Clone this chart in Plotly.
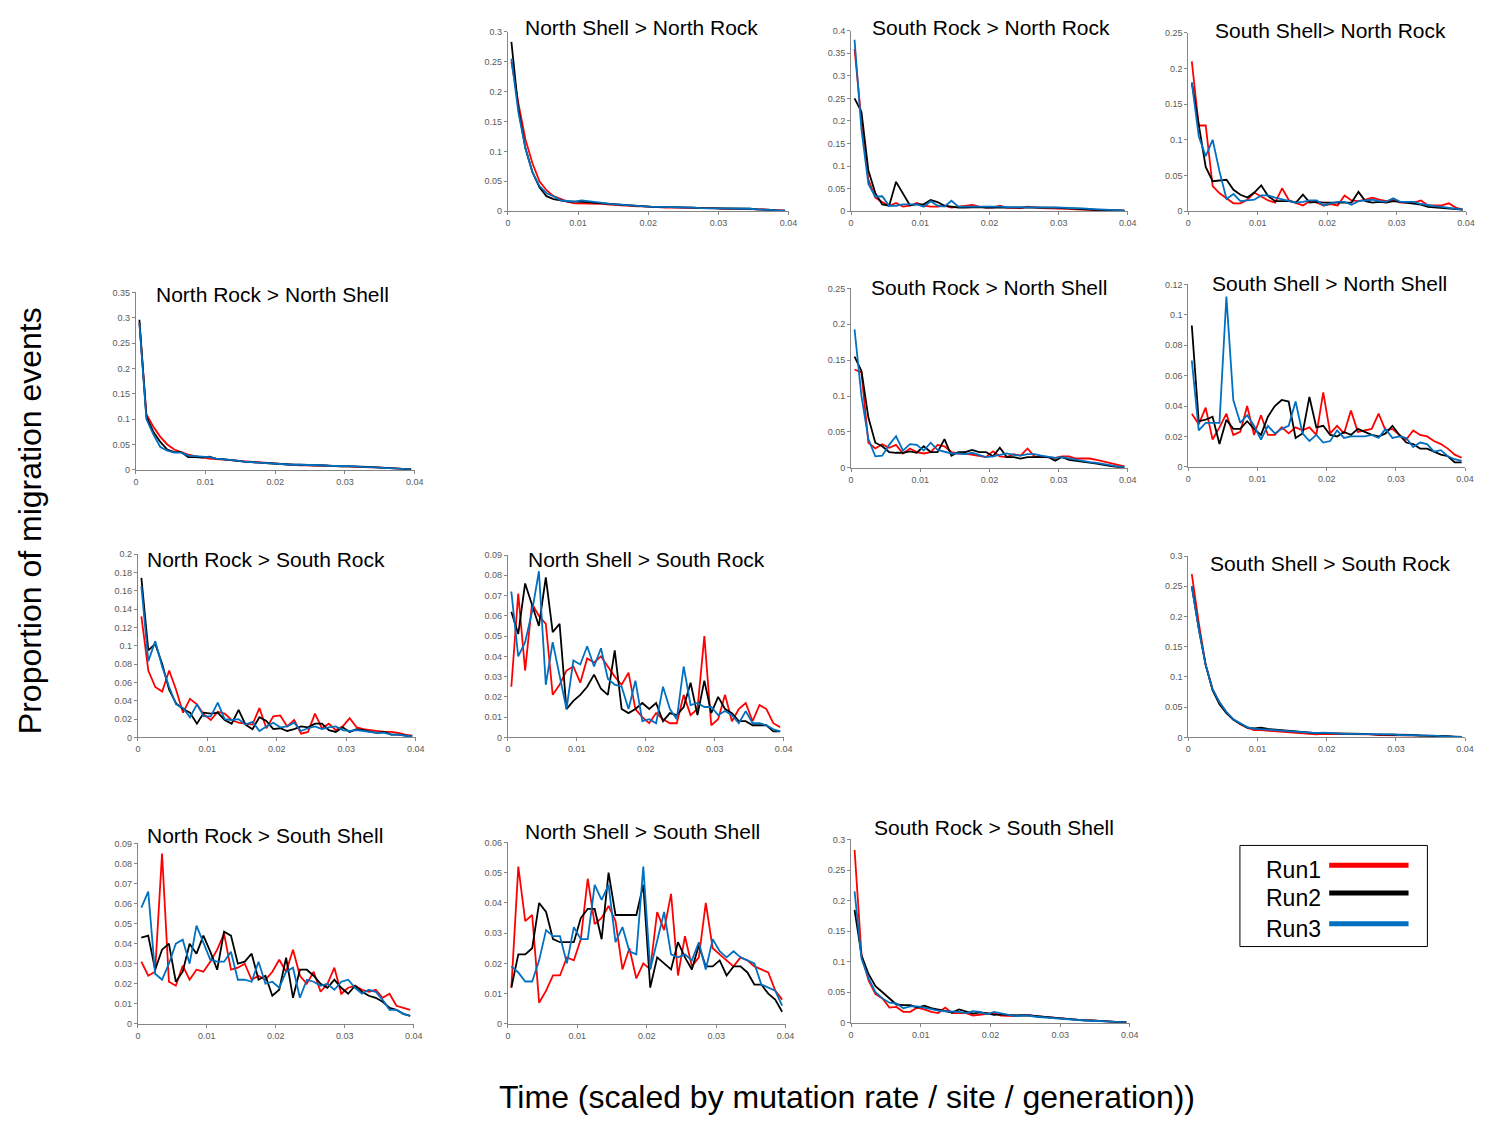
import plotly.graph_objects as go

W, H = 1485, 1122

x_bins = [0.0005, 0.0015, 0.0025, 0.0035, 0.0045, 0.0055, 0.0065, 0.0075, 0.0085, 0.0095,
          0.0105, 0.0115, 0.0125, 0.0135, 0.0145, 0.0155, 0.0165, 0.0175, 0.0185, 0.0195,
          0.0205, 0.0215, 0.0225, 0.0235, 0.0245, 0.0255, 0.0265, 0.0275, 0.0285, 0.0295,
          0.0305, 0.0315, 0.0325, 0.0335, 0.0345, 0.0355, 0.0365, 0.0375, 0.0385, 0.0395]

run_names = ["Run1", "Run2", "Run3"]
run_colors = ["#FF0000", "#000000", "#0070C0"]

# North Shell > North Rock
nsnr_run1 = [0.25, 0.18, 0.12, 0.08, 0.05, 0.035, 0.025, 0.02, 0.016, 0.013,
             0.013, 0.013, 0.012, 0.012, 0.011, 0.01, 0.009, 0.009, 0.008, 0.008,
             0.007, 0.007, 0.006, 0.006, 0.006, 0.006, 0.005, 0.005, 0.005, 0.005,
             0.004, 0.004, 0.004, 0.004, 0.003, 0.003, 0.003, 0.002, 0.002, 0.001]
nsnr_run2 = [0.283, 0.17, 0.105, 0.065, 0.04, 0.025, 0.02, 0.018, 0.016, 0.016,
             0.016, 0.015, 0.014, 0.013, 0.012, 0.011, 0.01, 0.009, 0.009, 0.008,
             0.007, 0.007, 0.007, 0.006, 0.006, 0.006, 0.006, 0.005, 0.005, 0.005,
             0.005, 0.004, 0.004, 0.004, 0.004, 0.003, 0.003, 0.002, 0.001, 0.001]
nsnr_run3 = [0.255, 0.165, 0.105, 0.065, 0.042, 0.03, 0.025, 0.018, 0.017, 0.016,
             0.018, 0.017, 0.015, 0.014, 0.012, 0.011, 0.01, 0.009, 0.008, 0.008,
             0.007, 0.007, 0.007, 0.006, 0.006, 0.006, 0.006, 0.005, 0.005, 0.005,
             0.005, 0.005, 0.004, 0.004, 0.004, 0.003, 0.003, 0.002, 0.001, 0.001]

# South Rock > North Rock
srnr_run1 = [0.36, 0.2, 0.07, 0.03, 0.02, 0.012, 0.018, 0.01, 0.012, 0.018,
             0.012, 0.01, 0.01, 0.012, 0.008, 0.01, 0.013, 0.014, 0.01, 0.008,
             0.008, 0.012, 0.008, 0.008, 0.007, 0.01, 0.008, 0.007, 0.006, 0.006,
             0.005, 0.005, 0.004, 0.004, 0.003, 0.002, 0.002, 0.002, 0.001, 0.001]
srnr_run2 = [0.25, 0.22, 0.09, 0.04, 0.015, 0.012, 0.065, 0.04, 0.013, 0.015,
             0.015, 0.025, 0.02, 0.012, 0.01, 0.008, 0.008, 0.009, 0.009, 0.008,
             0.008, 0.009, 0.008, 0.008, 0.008, 0.008, 0.008, 0.008, 0.008, 0.008,
             0.007, 0.006, 0.006, 0.005, 0.004, 0.003, 0.003, 0.002, 0.001, 0.001]
srnr_run3 = [0.38, 0.18, 0.06, 0.032, 0.033, 0.012, 0.012, 0.015, 0.015, 0.015,
             0.01, 0.022, 0.012, 0.01, 0.023, 0.01, 0.01, 0.01, 0.01, 0.01,
             0.011, 0.01, 0.009, 0.009, 0.008, 0.008, 0.008, 0.008, 0.008, 0.008,
             0.008, 0.007, 0.007, 0.006, 0.005, 0.004, 0.003, 0.002, 0.002, 0.001]

# South Shell > North Rock
ssnr_run1 = [0.21, 0.12, 0.12, 0.035, 0.025, 0.018, 0.011, 0.011, 0.016, 0.026,
             0.02, 0.015, 0.012, 0.032, 0.015, 0.012, 0.008, 0.014, 0.012, 0.008,
             0.01, 0.008, 0.022, 0.015, 0.014, 0.016, 0.019, 0.016, 0.014, 0.016,
             0.012, 0.012, 0.012, 0.015, 0.008, 0.008, 0.008, 0.011, 0.005, 0.002]
ssnr_run2 = [0.18, 0.12, 0.062, 0.042, 0.043, 0.044, 0.03, 0.023, 0.019, 0.026,
             0.036, 0.021, 0.014, 0.014, 0.014, 0.012, 0.023, 0.012, 0.013, 0.012,
             0.012, 0.012, 0.013, 0.012, 0.027, 0.014, 0.012, 0.013, 0.012, 0.014,
             0.013, 0.012, 0.011, 0.009, 0.006, 0.005, 0.004, 0.004, 0.003, 0.002]
ssnr_run3 = [0.18, 0.105, 0.077, 0.1, 0.055, 0.017, 0.024, 0.014, 0.015, 0.016,
             0.022, 0.022, 0.019, 0.017, 0.014, 0.012, 0.013, 0.015, 0.015, 0.008,
             0.011, 0.013, 0.013, 0.009, 0.014, 0.015, 0.016, 0.014, 0.013, 0.018,
             0.013, 0.013, 0.013, 0.01, 0.008, 0.007, 0.006, 0.005, 0.004, 0.002]

# North Rock > North Shell
nrns_run1 = [0.29, 0.11, 0.085, 0.065, 0.05, 0.04, 0.035, 0.03, 0.027, 0.024,
             0.022, 0.021, 0.02, 0.019, 0.018, 0.017, 0.015, 0.014, 0.013, 0.012,
             0.011, 0.01, 0.01, 0.009, 0.009, 0.008, 0.008, 0.008, 0.007, 0.007,
             0.007, 0.006, 0.006, 0.005, 0.005, 0.004, 0.003, 0.003, 0.002, 0.001]
nrns_run2 = [0.296, 0.105, 0.075, 0.055, 0.04, 0.035, 0.035, 0.025, 0.025, 0.024,
             0.026, 0.022, 0.021, 0.019, 0.018, 0.016, 0.015, 0.014, 0.013, 0.012,
             0.011, 0.011, 0.01, 0.01, 0.009, 0.009, 0.009, 0.008, 0.008, 0.007,
             0.007, 0.007, 0.006, 0.006, 0.005, 0.004, 0.003, 0.003, 0.002, 0.001]
nrns_run3 = [0.29, 0.1, 0.07, 0.045, 0.038, 0.034, 0.034, 0.028, 0.027, 0.026,
             0.025, 0.022, 0.021, 0.019, 0.018, 0.016, 0.015, 0.014, 0.013, 0.012,
             0.011, 0.011, 0.01, 0.01, 0.01, 0.009, 0.009, 0.008, 0.008, 0.007,
             0.007, 0.007, 0.006, 0.006, 0.005, 0.004, 0.003, 0.003, 0.002, 0.001]

# South Rock > North Shell
srns_run1 = [0.137, 0.133, 0.035, 0.027, 0.033, 0.028, 0.032, 0.02, 0.027, 0.022,
             0.02, 0.022, 0.032, 0.03, 0.022, 0.02, 0.02, 0.018, 0.017, 0.015,
             0.023, 0.016, 0.015, 0.019, 0.017, 0.027, 0.016, 0.015, 0.015, 0.014,
             0.016, 0.016, 0.013, 0.013, 0.013, 0.011, 0.009, 0.006, 0.004, 0.002]
srns_run2 = [0.155, 0.135, 0.07, 0.035, 0.03, 0.022, 0.021, 0.021, 0.023, 0.021,
             0.03, 0.022, 0.022, 0.04, 0.017, 0.022, 0.022, 0.025, 0.022, 0.022,
             0.016, 0.028, 0.015, 0.015, 0.013, 0.015, 0.015, 0.015, 0.015, 0.01,
             0.015, 0.011, 0.01, 0.009, 0.007, 0.006, 0.004, 0.002, 0.001, 0.001]
srns_run3 = [0.193, 0.1, 0.04, 0.016, 0.017, 0.032, 0.044, 0.024, 0.033, 0.032,
             0.024, 0.035, 0.025, 0.022, 0.02, 0.02, 0.019, 0.021, 0.018, 0.015,
             0.016, 0.018, 0.02, 0.018, 0.017, 0.019, 0.019, 0.017, 0.016, 0.014,
             0.015, 0.013, 0.012, 0.01, 0.008, 0.007, 0.005, 0.004, 0.002, 0.001]

# South Shell > North Shell
ssns_run1 = [0.035, 0.028, 0.039, 0.018, 0.026, 0.035, 0.021, 0.023, 0.04, 0.021,
             0.034, 0.021, 0.021, 0.026, 0.022, 0.026, 0.024, 0.026, 0.021, 0.049,
             0.022, 0.027, 0.022, 0.037, 0.023, 0.024, 0.025, 0.035, 0.024, 0.025,
             0.021, 0.018, 0.024, 0.021, 0.02, 0.017, 0.015, 0.012, 0.008, 0.006]
ssns_run2 = [0.093, 0.03, 0.031, 0.033, 0.015, 0.031, 0.025, 0.025, 0.03, 0.025,
             0.021, 0.033, 0.04, 0.044, 0.043, 0.019, 0.022, 0.046, 0.026, 0.027,
             0.021, 0.02, 0.023, 0.021, 0.025, 0.023, 0.021, 0.02, 0.022, 0.027,
             0.021, 0.016, 0.015, 0.012, 0.012, 0.01, 0.008, 0.007, 0.003, 0.003]
ssns_run3 = [0.07, 0.024, 0.029, 0.029, 0.029, 0.112, 0.044, 0.029, 0.034, 0.027,
             0.018, 0.027, 0.022, 0.025, 0.027, 0.043, 0.022, 0.017, 0.021, 0.016,
             0.017, 0.024, 0.019, 0.02, 0.02, 0.02, 0.021, 0.019, 0.025, 0.019,
             0.02, 0.019, 0.013, 0.016, 0.015, 0.01, 0.011, 0.007, 0.005, 0.004]

# North Rock > South Rock
nrsr_run1 = [0.132, 0.073, 0.055, 0.05, 0.073, 0.052, 0.027, 0.042, 0.036, 0.025,
             0.019, 0.028, 0.026, 0.019, 0.016, 0.015, 0.014, 0.032, 0.01, 0.023,
             0.024, 0.012, 0.019, 0.004, 0.006, 0.026, 0.01, 0.015, 0.008, 0.012,
             0.021, 0.011, 0.009, 0.008, 0.007, 0.006, 0.006, 0.005, 0.003, 0.002]
nrsr_run2 = [0.174, 0.095, 0.102, 0.08, 0.052, 0.037, 0.031, 0.027, 0.015, 0.027,
             0.026, 0.027, 0.019, 0.015, 0.03, 0.014, 0.009, 0.022, 0.018, 0.009,
             0.01, 0.007, 0.009, 0.012, 0.011, 0.015, 0.015, 0.008, 0.006, 0.011,
             0.006, 0.009, 0.008, 0.006, 0.005, 0.006, 0.003, 0.003, 0.002, 0.001]
nrsr_run3 = [0.165, 0.083, 0.105, 0.077, 0.055, 0.036, 0.032, 0.022, 0.036, 0.023,
             0.023, 0.038, 0.02, 0.019, 0.02, 0.014, 0.017, 0.007, 0.012, 0.016,
             0.011, 0.012, 0.016, 0.007, 0.01, 0.012, 0.009, 0.011, 0.012, 0.008,
             0.007, 0.008, 0.007, 0.006, 0.005, 0.005, 0.003, 0.003, 0.002, 0.001]

# North Shell > South Rock
nssr_run1 = [0.025, 0.071, 0.033, 0.066, 0.06, 0.056, 0.021, 0.026, 0.033, 0.035,
             0.027, 0.039, 0.037, 0.04, 0.035, 0.03, 0.026, 0.032, 0.014, 0.01,
             0.007, 0.012, 0.009, 0.007, 0.007, 0.021, 0.011, 0.014, 0.05, 0.006,
             0.009, 0.021, 0.008, 0.014, 0.017, 0.008, 0.016, 0.014, 0.007, 0.005]
nssr_run2 = [0.062, 0.051, 0.076, 0.066, 0.055, 0.079, 0.052, 0.056, 0.014, 0.018,
             0.021, 0.025, 0.031, 0.024, 0.021, 0.043, 0.014, 0.012, 0.014, 0.017,
             0.014, 0.017, 0.008, 0.012, 0.011, 0.015, 0.027, 0.011, 0.028, 0.012,
             0.02, 0.014, 0.012, 0.008, 0.008, 0.006, 0.006, 0.006, 0.003, 0.003]
nssr_run3 = [0.072, 0.04, 0.047, 0.062, 0.082, 0.026, 0.047, 0.03, 0.014, 0.038,
             0.036, 0.045, 0.035, 0.044, 0.029, 0.026, 0.025, 0.014, 0.028, 0.008,
             0.009, 0.007, 0.025, 0.014, 0.009, 0.035, 0.016, 0.017, 0.015, 0.015,
             0.011, 0.013, 0.011, 0.007, 0.013, 0.007, 0.007, 0.006, 0.004, 0.003]

# South Shell > South Rock
sssr_run1 = [0.27, 0.19, 0.12, 0.08, 0.058, 0.042, 0.03, 0.022, 0.016, 0.012,
             0.012, 0.011, 0.01, 0.009, 0.008, 0.007, 0.007, 0.006, 0.005, 0.006,
             0.006, 0.006, 0.005, 0.005, 0.005, 0.005, 0.005, 0.004, 0.004, 0.004,
             0.004, 0.003, 0.003, 0.003, 0.003, 0.002, 0.002, 0.002, 0.001, 0.001]
sssr_run2 = [0.25, 0.18, 0.12, 0.078, 0.055, 0.04, 0.029, 0.022, 0.016, 0.015,
             0.016, 0.014, 0.013, 0.012, 0.01, 0.009, 0.008, 0.008, 0.007, 0.007,
             0.007, 0.007, 0.007, 0.006, 0.006, 0.006, 0.005, 0.005, 0.005, 0.005,
             0.004, 0.004, 0.004, 0.003, 0.003, 0.003, 0.002, 0.002, 0.001, 0.001]
sssr_run3 = [0.25, 0.18, 0.12, 0.08, 0.058, 0.042, 0.03, 0.023, 0.017, 0.014,
             0.014, 0.013, 0.012, 0.011, 0.01, 0.009, 0.008, 0.008, 0.007, 0.008,
             0.007, 0.007, 0.006, 0.006, 0.006, 0.006, 0.005, 0.005, 0.005, 0.005,
             0.004, 0.004, 0.004, 0.003, 0.003, 0.003, 0.002, 0.002, 0.001, 0.001]

# North Rock > South Shell
nrss_run1 = [0.031, 0.024, 0.026, 0.085, 0.021, 0.019, 0.029, 0.022, 0.027, 0.026,
             0.031, 0.037, 0.045, 0.027, 0.028, 0.03, 0.022, 0.024, 0.022, 0.026,
             0.032, 0.026, 0.037, 0.024, 0.02, 0.026, 0.016, 0.02, 0.028, 0.015,
             0.018, 0.019, 0.017, 0.016, 0.017, 0.013, 0.015, 0.009, 0.008, 0.007]
nrss_run2 = [0.043, 0.044, 0.027, 0.037, 0.04, 0.021, 0.026, 0.04, 0.035, 0.044,
             0.036, 0.027, 0.046, 0.044, 0.03, 0.031, 0.035, 0.022, 0.024, 0.014,
             0.017, 0.033, 0.013, 0.027, 0.027, 0.024, 0.02, 0.018, 0.022, 0.018,
             0.015, 0.019, 0.016, 0.014, 0.013, 0.011, 0.008, 0.007, 0.005, 0.004]
nrss_run3 = [0.058, 0.066, 0.025, 0.022, 0.03, 0.04, 0.042, 0.03, 0.049, 0.04,
             0.032, 0.031, 0.031, 0.036, 0.022, 0.022, 0.021, 0.031, 0.02, 0.021,
             0.018, 0.026, 0.028, 0.013, 0.022, 0.021, 0.019, 0.02, 0.017, 0.021,
             0.022, 0.018, 0.015, 0.017, 0.016, 0.012, 0.007, 0.007, 0.005, 0.004]

# North Shell > South Shell
nsss_run1 = [0.012, 0.052, 0.034, 0.036, 0.007, 0.011, 0.016, 0.016, 0.022, 0.021,
             0.028, 0.048, 0.033, 0.035, 0.039, 0.034, 0.018, 0.025, 0.015, 0.02,
             0.018, 0.037, 0.031, 0.043, 0.016, 0.029, 0.019, 0.022, 0.04, 0.025,
             0.023, 0.021, 0.019, 0.022, 0.021, 0.019, 0.018, 0.017, 0.011, 0.008]
nsss_run2 = [0.012, 0.023, 0.023, 0.025, 0.04, 0.037, 0.028, 0.027, 0.027, 0.027,
             0.035, 0.038, 0.038, 0.028, 0.05, 0.036, 0.036, 0.036, 0.036, 0.046,
             0.012, 0.022, 0.02, 0.018, 0.027, 0.022, 0.018, 0.026, 0.019, 0.019,
             0.021, 0.016, 0.019, 0.019, 0.017, 0.013, 0.013, 0.01, 0.008, 0.004]
nsss_run3 = [0.019, 0.017, 0.014, 0.014, 0.021, 0.031, 0.029, 0.029, 0.02, 0.032,
             0.028, 0.028, 0.046, 0.041, 0.046, 0.027, 0.032, 0.024, 0.023, 0.052,
             0.018, 0.027, 0.037, 0.023, 0.022, 0.023, 0.021, 0.027, 0.018, 0.028,
             0.024, 0.022, 0.024, 0.022, 0.021, 0.02, 0.013, 0.012, 0.011, 0.006]

# South Rock > South Shell
srss_run1 = [0.283, 0.11, 0.07, 0.047, 0.04, 0.025, 0.026, 0.018, 0.018, 0.025,
             0.022, 0.018, 0.016, 0.025, 0.016, 0.016, 0.016, 0.012, 0.013, 0.015,
             0.016, 0.012, 0.012, 0.011, 0.013, 0.013, 0.011, 0.01, 0.008, 0.008,
             0.007, 0.006, 0.005, 0.004, 0.004, 0.003, 0.002, 0.002, 0.001, 0.001]
srss_run2 = [0.185, 0.11, 0.08, 0.06, 0.05, 0.04, 0.03, 0.029, 0.029, 0.025,
             0.028, 0.024, 0.022, 0.02, 0.017, 0.022, 0.018, 0.015, 0.017, 0.016,
             0.013, 0.014, 0.013, 0.012, 0.012, 0.012, 0.011, 0.01, 0.008, 0.008,
             0.007, 0.006, 0.005, 0.004, 0.004, 0.003, 0.002, 0.002, 0.001, 0.001]
srss_run3 = [0.215, 0.105, 0.073, 0.05, 0.04, 0.033, 0.032, 0.024, 0.027, 0.027,
             0.025, 0.022, 0.02, 0.019, 0.019, 0.018, 0.016, 0.019, 0.018, 0.014,
             0.018, 0.016, 0.014, 0.011, 0.012, 0.012, 0.01, 0.009, 0.008, 0.008,
             0.007, 0.006, 0.005, 0.004, 0.003, 0.003, 0.002, 0.001, 0.001, 0.001]

titles = ["North Shell > North Rock", "South Rock > North Rock", "South Shell> North Rock",
          "North Rock > North Shell", "South Rock > North Shell", "South Shell > North Shell",
          "North Rock > South Rock", "North Shell > South Rock", "South Shell > South Rock",
          "North Rock > South Shell", "North Shell > South Shell", "South Rock > South Shell"]
y_max = [0.3, 0.4, 0.25, 0.35, 0.25, 0.12, 0.2, 0.09, 0.3, 0.09, 0.06, 0.3]
y_step = [0.05, 0.05, 0.05, 0.05, 0.05, 0.02, 0.02, 0.01, 0.05, 0.01, 0.01, 0.05]
series = [
    (nsnr_run1, nsnr_run2, nsnr_run3), (srnr_run1, srnr_run2, srnr_run3), (ssnr_run1, ssnr_run2, ssnr_run3),
    (nrns_run1, nrns_run2, nrns_run3), (srns_run1, srns_run2, srns_run3), (ssns_run1, ssns_run2, ssns_run3),
    (nrsr_run1, nrsr_run2, nrsr_run3), (nssr_run1, nssr_run2, nssr_run3), (sssr_run1, sssr_run2, sssr_run3),
    (nrss_run1, nrss_run2, nrss_run3), (nsss_run1, nsss_run2, nsss_run3), (srss_run1, srss_run2, srss_run3),
]
for s in series:
    for r in s:
        assert len(r) == len(x_bins), len(r)

# pixel boxes (left, right, bottom, top) and title centers
boxes = [(509, 792, 208, 27), (855, 1134, 208, 26), (1195, 1475, 208, 28),
         (134, 415, 469, 290), (855, 1134, 467, 286), (1195, 1474, 466, 282),
         (136, 416, 739, 554), (509, 787, 739, 555), (1195, 1474, 739, 556),
         (136, 414, 1028, 846), (509, 789, 1028, 845), (855, 1136, 1027, 842)]
title_pos = [(644, 23), (996, 23), (1338, 26), (272, 292), (994, 285), (1337, 281),
             (265, 559), (649, 559), (1338, 564), (264, 838), (645, 834), (999, 830)]

FONT = "Liberation Sans, Arial, sans-serif"
fig = go.Figure()
annotations = []
layout_axes = {}
for k in range(12):
    n = k + 1
    xa = "x" if n == 1 else f"x{n}"
    ya = "y" if n == 1 else f"y{n}"
    for r in range(3):
        fig.add_trace(go.Scatter(x=x_bins, y=series[k][r], mode="lines", name=run_names[r],
                                 line=dict(color=run_colors[r], width=1.8),
                                 xaxis=xa, yaxis=ya, showlegend=False))
    l, rgt, b, t = boxes[k]
    layout_axes[f"xaxis{'' if n == 1 else n}"] = dict(
        domain=[l / W, rgt / W], anchor=ya, range=[0, 0.04], tick0=0, dtick=0.01,
        showgrid=False, zeroline=False, showline=True, linecolor="#868686", linewidth=1,
        ticks="outside", ticklen=3, tickcolor="#868686",
        tickfont=dict(size=9, color="#595959", family=FONT))
    layout_axes[f"yaxis{'' if n == 1 else n}"] = dict(
        domain=[1 - b / H, 1 - t / H], anchor=xa, range=[0, y_max[k]], tick0=0, dtick=y_step[k],
        showgrid=False, zeroline=False, showline=True, linecolor="#868686", linewidth=1,
        ticks="outside", ticklen=3, tickcolor="#868686",
        tickfont=dict(size=9, color="#595959", family=FONT))
    tx, ty = title_pos[k]
    annotations.append(dict(text=titles[k], x=tx / W, y=1 - ty / H, xref="paper", yref="paper",
                            showarrow=False, xanchor="center", yanchor="middle",
                            font=dict(size=21, color="#000000", family=FONT)))

annotations.append(dict(text="Proportion of migration events", x=28 / W, y=1 - 520 / H,
                        xref="paper", yref="paper", showarrow=False, textangle=-90,
                        xanchor="center", yanchor="middle",
                        font=dict(size=32, color="#000000", family=FONT)))
annotations.append(dict(text="Time (scaled by mutation rate / site / generation))", x=851 / W, y=1 - 1102 / H,
                        xref="paper", yref="paper", showarrow=False, xanchor="center", yanchor="middle",
                        font=dict(size=32, color="#000000", family=FONT)))

# custom legend (text left, line right)
shapes = [dict(type="rect", xref="paper", yref="paper", x0=1247 / W, x1=1436 / W,
               y0=1 - 950 / H, y1=1 - 848 / H, line=dict(color="#000000", width=1))]
leg_y = [868, 896, 927]
for r in range(3):
    annotations.append(dict(text=run_names[r], x=1271 / W, y=1 - (leg_y[r] + 5) / H, xref="paper", yref="paper",
                            showarrow=False, xanchor="left", yanchor="middle",
                            font=dict(size=23, color="#000000", family=FONT)))
    shapes.append(dict(type="line", xref="paper", yref="paper", x0=1337 / W, x1=1417 / W,
                       y0=1 - leg_y[r] / H, y1=1 - leg_y[r] / H,
                       line=dict(color=run_colors[r], width=5)))

fig.update_layout(width=W, height=H, margin=dict(l=0, r=0, t=0, b=0),
                  paper_bgcolor="#FFFFFF", plot_bgcolor="#FFFFFF",
                  annotations=annotations, shapes=shapes, showlegend=False,
                  font=dict(family=FONT), **layout_axes)
fig.write_html("out.html")
